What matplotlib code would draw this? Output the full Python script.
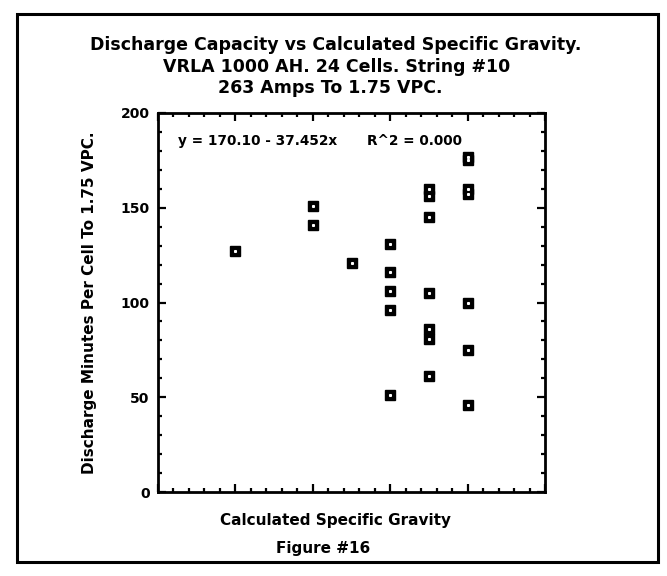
import matplotlib
matplotlib.use('Agg')
import matplotlib.pyplot as plt
from matplotlib.patches import Rectangle
from matplotlib.ticker import MultipleLocator, NullFormatter

# Calculated specific gravity (axis unlabeled, plotted in grid units)
gravity = [1, 2, 2, 2.5, 3, 3, 3, 3, 3,
           3.5, 3.5, 3.5, 3.5, 3.5, 3.5, 3.5,
           4, 4, 4, 4, 4, 4, 4]
# Discharge minutes per cell to 1.75 VPC
minutes = [127, 151, 141, 121, 131, 116, 106, 96, 51,
           160, 156, 145, 105, 86, 81, 61,
           177, 175, 160, 157, 100, 75, 46]

title_lines = ['Discharge Capacity vs Calculated Specific Gravity.',
               'VRLA 1000 AH. 24 Cells. String #10',
               '263 Amps To 1.75 VPC.']
fit_eq = 'y = 170.10 - 37.452x'
fit_r2 = 'R^2 = 0.000'

plt.rcParams.update({
    'font.family': ['DejaVu Sans'],
    'font.weight': 'bold',
})

fig = plt.figure(figsize=(6.67, 5.76), dpi=100)

# outer frame of the figure
fig.patches.append(Rectangle((17 / 667, 1 - 562 / 576), 641 / 667, 548 / 576,
                             transform=fig.transFigure, fill=False,
                             edgecolor='black', linewidth=2.2))

ax = fig.add_axes([158 / 667, 1 - 492 / 576, 387 / 667, 379 / 576])
ax.plot(gravity, minutes, linestyle='none', marker='s', markersize=6.5,
        markerfacecolor='black', markeredgecolor='black')
ax.plot(gravity, minutes, linestyle='none', marker='s', markersize=1.2,
        markerfacecolor='white', markeredgecolor='white')

ax.set_xlim(0, 5)
ax.set_ylim(0, 200)
ax.xaxis.set_major_locator(MultipleLocator(1))
ax.xaxis.set_minor_locator(MultipleLocator(0.2))
ax.xaxis.set_major_formatter(NullFormatter())
ax.yaxis.set_major_locator(MultipleLocator(50))
ax.yaxis.set_minor_locator(MultipleLocator(10))
ax.tick_params(which='both', direction='in', top=True, right=True, width=1.6)
ax.tick_params(which='major', length=6, labelsize=10, pad=6)
ax.tick_params(which='minor', length=3)
for s in ax.spines.values():
    s.set_linewidth(2.0)
for lab in ax.get_yticklabels():
    lab.set_fontweight('bold')

ax.set_ylabel('Discharge Minutes Per Cell To 1.75 VPC.', fontsize=11,
              fontweight='bold', labelpad=17)
ax.text(0.052, 0.925, fit_eq, transform=ax.transAxes, fontsize=9.8,
        fontweight='bold', va='center', ha='left')
ax.text(0.54, 0.925, fit_r2, transform=ax.transAxes, fontsize=9.8,
        fontweight='bold', va='center', ha='left')

fig.text(336 / 667, 1 - 45 / 576, title_lines[0], ha='center', va='center',
         fontsize=12.5, fontweight='bold')
fig.text(337 / 667, 1 - 67 / 576, title_lines[1], ha='center', va='center',
         fontsize=12.5, fontweight='bold')
fig.text(330 / 667, 1 - 88 / 576, title_lines[2], ha='center', va='center',
         fontsize=12.5, fontweight='bold')
fig.text(335 / 667, 1 - 521 / 576, 'Calculated Specific Gravity', ha='center',
         va='center', fontsize=11, fontweight='bold')
fig.text(323 / 667, 1 - 548 / 576, 'Figure #16', ha='center', va='center',
         fontsize=11, fontweight='bold')

fig.savefig('out.png', dpi=100)
